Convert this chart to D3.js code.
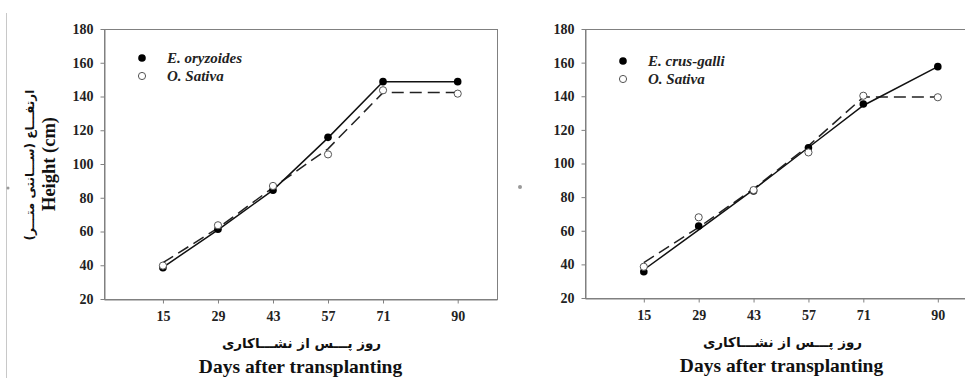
<!DOCTYPE html>
<html lang="en">
<head>
    <meta charset="UTF-8">
    <title>Plant height</title>
</head>

<style>
    body {
        margin: 0;
        background: #ffffff;
    }
    .axticks text {
        font-family: 'Liberation Serif', 'Times New Roman', serif;
        font-weight: bold;
        font-size: 14px;
        fill: #222;
    }
    .axticks path, .axticks line {
        stroke: #808080;
        stroke-width: 1px;
    }
    .frame {
        fill: none;
        stroke: #808080;
        stroke-width: 1px;
    }
    .axlabel {
        font-family: 'Liberation Serif', 'Times New Roman', serif;
        font-weight: bold;
        fill: #111;
    }
    .falabel {
        font-family: 'DejaVu Sans', sans-serif;
        font-weight: bold;
        fill: #111;
    }
    .legend text {
        font-family: 'Liberation Serif', 'Times New Roman', serif;
        font-weight: bold;
        font-style: italic;
        font-size: 15px;
        fill: #222;
    }
</style>
<body>
<div id="my_dataviz"></div>
</body>

<script src="https://cdn.jsdelivr.net/npm/d3@7"></script>

<script>

    // days after transplanting (x categories / tick values)
    var days = [15, 29, 43, 57, 71, 90];
    var yTicks = [20, 40, 60, 80, 100, 120, 140, 160, 180];

    // left panel: observed heights (cm)
    var oryzoidesObs = [38.5, 61.3, 84.5, 115.8, 148.8, 148.8];
    var sativaObsLeft = [39.8, 63.7, 87, 105.7, 143.7, 141.7];
    // left panel: fitted lines
    var oryzoidesFit = [38.8, 61, 84.5, 115.5, 148.8, 148.8];
    var sativaFitLeft = [41.5, 62, 86, 109, 142.3, 142.3];

    // right panel: observed heights (cm)
    var crusgalliObs = [35.6, 62.8, 83.6, 109.4, 135.4, 157.6];
    var sativaObsRight = [38.6, 68, 84.2, 106.6, 140.3, 139.4];
    // right panel: fitted lines
    var crusgalliFit = [36.8, 60.5, 84.5, 109.5, 134.5, 157.6];
    var sativaFitRight = [41, 62, 85, 110.5, 139.5, 139.5];

    var xLabelFa = "روز پـــس از نشـــاکاری";
    var xLabelEn = "Days after transplanting";
    var yLabelFa = "ارتفـــاع (ســـانتی متـــر)";
    var yLabelEn = "Height (cm)";

    var svg = d3.select("#my_dataviz")
        .append("svg")
        .attr("width", 965)
        .attr("height", 378);

    // faint border left over from the scanned page
    svg.append("line")
        .attr("x1", 6.5).attr("x2", 6.5)
        .attr("y1", 13).attr("y2", 378)
        .style("stroke", "#c8c8c8")
        .style("stroke-width", 1);
    svg.append("circle").attr("cx", 8).attr("cy", 188).attr("r", 1.5).style("fill", "#999");
    svg.append("circle").attr("cx", 520).attr("cy", 187).attr("r", 2).style("fill", "#999");

    function drawPanel(p) {
        var x = d3.scaleLinear()
            .domain([0, 100])
            .range([p.left, p.right]);
        var y = d3.scaleLinear()
            .domain([20, 180])
            .range([p.bottom, p.top]);

        var g = svg.append("g");

        // box around the plot
        g.append("rect")
            .attr("class", "frame")
            .attr("x", p.left + 0.5)
            .attr("y", p.top + 0.5)
            .attr("width", p.right - p.left)
            .attr("height", p.bottom - p.top);

        // Add X axis
        g.append("g")
            .attr("class", "axticks")
            .attr("transform", "translate(0," + (p.bottom + 0.5) + ")")
            .call(d3.axisBottom(x).tickValues(days).tickSize(4).tickPadding(8).tickSizeOuter(0));

        // Add Y axis
        g.append("g")
            .attr("class", "axticks")
            .attr("transform", "translate(" + (p.left + 0.5) + ",0)")
            .call(d3.axisLeft(y).tickValues(yTicks).tickSize(4).tickPadding(7).tickSizeOuter(0));

        // fitted lines
        var line = d3.line()
            .x(function(d, i) { return x(days[i]); })
            .y(function(d) { return y(d); })
            .curve(d3.curveLinear);

        g.append("path")
            .datum(p.fitB)
            .attr("d", line)
            .style("fill", "none")
            .style("stroke", "#222")
            .style("stroke-width", 1.5)
            .style("stroke-dasharray", "12,6");

        g.append("path")
            .datum(p.fitA)
            .attr("d", line)
            .style("fill", "none")
            .style("stroke", "#111")
            .style("stroke-width", 1.5);

        // observed points
        g.selectAll(".ptA")
            .data(p.obsA)
            .enter()
            .append("circle")
            .attr("cx", function(d, i) { return x(days[i]); })
            .attr("cy", function(d) { return y(d); })
            .attr("r", 3.8)
            .style("fill", "#000");

        g.selectAll(".ptB")
            .data(p.obsB)
            .enter()
            .append("circle")
            .attr("cx", function(d, i) { return x(days[i]); })
            .attr("cy", function(d) { return y(d); })
            .attr("r", 3.6)
            .style("fill", "#fff")
            .style("stroke", "#555")
            .style("stroke-width", 1);

        // legend
        var legend = g.append("g").attr("class", "legend");
        legend.append("circle")
            .attr("cx", p.legX).attr("cy", p.legY).attr("r", 3.8)
            .style("fill", "#000");
        legend.append("circle")
            .attr("cx", p.legX).attr("cy", p.legY + 18).attr("r", 3.6)
            .style("fill", "#fff").style("stroke", "#555");
        legend.append("text")
            .attr("x", p.legX + 25).attr("y", p.legY + 5)
            .text(p.nameA);
        legend.append("text")
            .attr("x", p.legX + 25).attr("y", p.legY + 23)
            .text("O. Sativa");

        // x axis labels
        var cx = (p.left + 393 * 0.5) ;
        g.append("text")
            .attr("class", "falabel")
            .attr("x", cx + 1)
            .attr("y", p.bottom + 49)
            .attr("text-anchor", "middle")
            .style("font-size", "13.5px")
            .text(xLabelFa);
        g.append("text")
            .attr("class", "axlabel")
            .attr("x", cx)
            .attr("y", p.bottom + 74)
            .attr("text-anchor", "middle")
            .style("font-size", "19.5px")
            .text(xLabelEn);

        // y axis labels (left panel only)
        if (p.yLabels) {
            g.append("text")
                .attr("class", "axlabel")
                .attr("transform", "translate(55,164) rotate(-90)")
                .attr("text-anchor", "middle")
                .style("font-size", "18.5px")
                .text(yLabelEn);
            g.append("text")
                .attr("class", "falabel")
                .attr("transform", "translate(34,165) rotate(-90)")
                .attr("text-anchor", "middle")
                .style("font-size", "12px")
                .text(yLabelFa);
        }
    }

    drawPanel({
        left: 104, right: 497, top: 29, bottom: 299,
        obsA: oryzoidesObs, obsB: sativaObsLeft,
        fitA: oryzoidesFit, fitB: sativaFitLeft,
        nameA: "E. oryzoides",
        legX: 142, legY: 58,
        yLabels: true
    });

    drawPanel({
        left: 585, right: 977, top: 29, bottom: 298,
        obsA: crusgalliObs, obsB: sativaObsRight,
        fitA: crusgalliFit, fitB: sativaFitRight,
        nameA: "E. crus-galli",
        legX: 623, legY: 61,
        yLabels: false
    });
</script>
</html>
